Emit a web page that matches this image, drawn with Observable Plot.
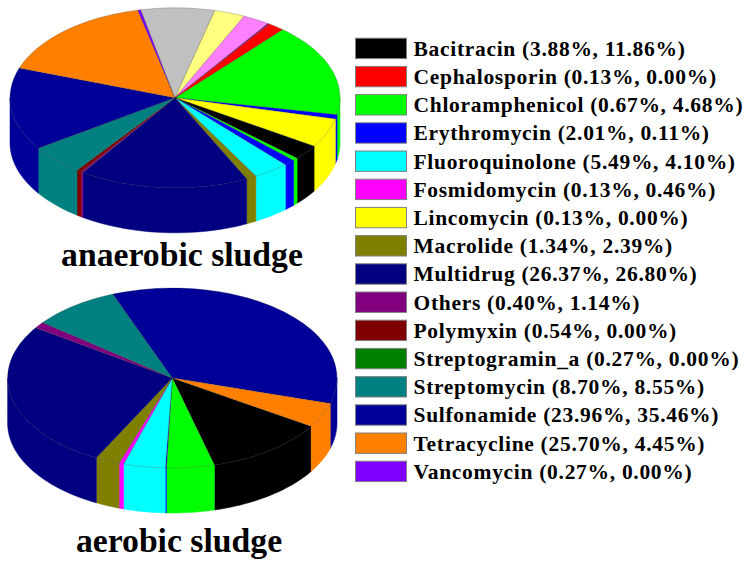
<!DOCTYPE html>
<html><head><meta charset="utf-8">
<script src="https://cdn.jsdelivr.net/npm/d3@7"></script>
<script src="https://cdn.jsdelivr.net/npm/@observablehq/plot@0.6"></script>
<style>html,body{margin:0;padding:0;background:#fff}svg{display:block}.legend-label text{letter-spacing:0.7px}</style>
</head><body><div id="chart"></div>
<script>
// Legend table
const antibiotics = ["Bacitracin","Cephalosporin","Chloramphenicol","Erythromycin","Fluoroquinolone","Fosmidomycin","Lincomycin","Macrolide","Multidrug","Others","Polymyxin","Streptogramin_a","Streptomycin","Sulfonamide","Tetracycline","Vancomycin"];
const anaerobicLabel = [3.88,0.13,0.67,2.01,5.49,0.13,0.13,1.34,26.37,0.40,0.54,0.27,8.70,23.96,25.70,0.27];
const aerobicLabel = [11.86,0.00,4.68,0.11,4.10,0.46,0.00,2.39,26.80,1.14,0.00,0.00,8.55,35.46,4.45,0.00];
const legendColors = ["#000000","#ff0000","#00ff00","#0000ff","#00ffff","#ff00ff","#ffff00","#808000","#000080","#800080","#800000","#008000","#008080","#000099","#ff8000","#8000ff"];
// Anaerobic slices as drawn, clockwise (shares)
const anaerobicSliceColors = ["#00ff00","#0000ff","#ffff00","#000000","#00ff00","#0000ff","#00ffff","#808000","#000080","#800080","#800000","#008080","#000099","#ff8000","#8000ff","#c0c0c0","#ffff80","#ff80ff","#800080","#ff0000"];
const anaerobicSliceShares = [16.7,0.75,5.25,2.7,0.5,1.1,3.5,1.0,16.55,0.2,0.5,5.4,14.8,16.0,0.3,7.2,3.0,2.64,0.17,1.6];
const anaerobicStartDeg = 40.7;
const aerobicStartDeg = 122.5;

const W = 752, H = 567;
const pieA = {cx:174.5, cy:97.3, rx:165, ry:90, depth:45};
const pieB = {cx:171.8, cy:377.5, rx:164.7, ry:90, depth:45};
const rad = d => d*Math.PI/180;
function arcPts(p, a, b, dz=0){
  const n = Math.max(2, Math.ceil((b-a)/2)+1), o=[];
  for(let i=0;i<n;i++){const t=a+(b-a)*i/(n-1);
    o.push({x:p.cx+p.rx*Math.sin(rad(t)), y:p.cy-p.ry*Math.cos(rad(t))+dz});}
  return o;
}
function pieParts(p, shares, colors, start, key){
  const total=d3.sum(shares); let a=start;
  const sides=[], tops=[];
  shares.forEach((s,i)=>{
    if(s<=0) return;
    const b=a+s/total*360;
    tops.push(...[{x:p.cx,y:p.cy},...arcPts(p,a,b),{x:p.cx,y:p.cy}].map(q=>({...q,z:`${key}t${i}`,c:colors[i]})));
    for(const off of [0,360,-360]){
      const l=Math.max(a+off,90), r=Math.min(b+off,270);
      if(r>l){
        const top=arcPts(p,l,r), bot=arcPts(p,l,r,p.depth).reverse();
        sides.push(...[...top,...bot,top[0]].map(q=>({...q,z:`${key}s${i}${off}`,c:colors[i]})));
      }
    }
    a=b;
  });
  return {sides,tops};
}
const A = pieParts(pieA, anaerobicSliceShares, anaerobicSliceColors, anaerobicStartDeg, "a");
const B = pieParts(pieB, aerobicLabel, legendColors, aerobicStartDeg, "b");
const rows = antibiotics.map((name,i)=>({
  name, color:legendColors[i],
  y1:38.2+i*28.2, y2:58.6+i*28.2,
  label:`${name} (${anaerobicLabel[i].toFixed(2)}%, ${aerobicLabel[i].toFixed(2)}%)`
}));
const serif = "'Liberation Serif','Times New Roman',serif";
const side = d => Plot.line(d,{x:"x",y:"y",z:"z",fill:"c",stroke:"c",strokeWidth:0.5,curve:"linear"});
const top_ = d => Plot.line(d,{x:"x",y:"y",z:"z",fill:"c",stroke:"#303030",strokeWidth:0.4,strokeOpacity:0.6,strokeLinejoin:"round",curve:"linear"});
const plot = Plot.plot({
  width:W, height:H, margin:0,
  x:{domain:[0,W],range:[0,W],axis:null},
  y:{domain:[0,H],range:[0,H],axis:null},
  color:{type:"identity"},
  marks:[
    side(A.sides), top_(A.tops),
    side(B.sides), top_(B.tops),
    Plot.rect(rows,{x1:355.5,x2:406.5,y1:"y1",y2:"y2",fill:"color",stroke:"#808080",strokeWidth:1}),
    Plot.text(rows,{x:413,y:d=>(d.y1+d.y2)/2,text:"label",textAnchor:"start",fontFamily:serif,fontWeight:"bold",fontSize:21.5,fill:"#000",className:"legend-label"}),
    Plot.text([{t:"anaerobic sludge",x:181.5,y:255},{t:"aerobic sludge",x:178.5,y:541}],{x:"x",y:"y",text:"t",textAnchor:"middle",fontFamily:serif,fontWeight:"bold",fontSize:33.7,fill:"#000"})
  ]
});
plot.querySelectorAll("g").forEach(()=>{});
document.getElementById("chart").append(plot);
</script></body></html>
